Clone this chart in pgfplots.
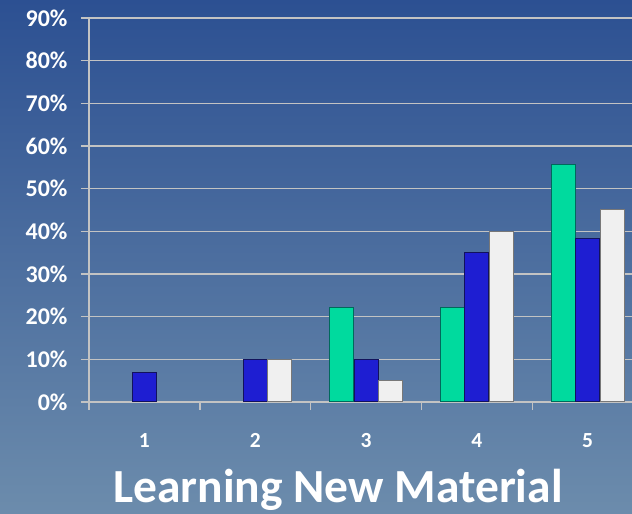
\documentclass[border=0pt]{standalone}
\usepackage{fontspec}
\setmainfont{Carlito}
\usepackage{pgfplots}
\pgfplotsset{compat=1.18}
\definecolor{bgtop}{RGB}{44,80,146}
\definecolor{bgbot}{RGB}{108,140,172}
\definecolor{gridc}{RGB}{195,195,195}
\definecolor{gfill}{RGB}{0,218,158}
\definecolor{gedge}{RGB}{0,105,92}
\definecolor{bfill}{RGB}{30,30,210}
\definecolor{bedge}{RGB}{18,18,92}
\definecolor{wfill}{RGB}{240,240,240}
\definecolor{wedge}{RGB}{120,120,120}
\begin{document}
\begin{tikzpicture}[x=1pt,y=1pt]
\useasboundingbox (0,0) rectangle (632,514);
\shade[top color=bgtop, bottom color=bgbot] (0,0) rectangle (632,514);
\begin{axis}[
  at={(89pt,112pt)}, anchor=south west,
  scale only axis, width=543pt, height=384pt,
  xmin=0.5, xmax=5.4, ymin=0, ymax=90,
  axis x line*=bottom, axis y line*=left,
  axis line style={gridc, line width=1.4pt},
  ybar=0.5pt, bar width=24pt,
  xtick={1,2,3,4,5},
  major x tick style={draw=none},
  minor xtick={0.5,1.5,2.5,3.5,4.5},
  minor x tick style={gridc, line width=1.4pt},
  minor tick length=8pt,
  ytick={0,10,...,90},
  yticklabels={0\%,10\%,20\%,30\%,40\%,50\%,60\%,70\%,80\%,90\%},
  major y tick style={gridc, line width=1.4pt},
  major tick length=8pt,
  tick align=outside,
  ymajorgrids, grid style={gridc, line width=1.4pt},
  yticklabel style={font=\fontsize{24}{26}\selectfont\bfseries, text=white, xshift=-10pt},
  xticklabel style={font=\fontsize{21.5}{24}\selectfont\bfseries, text=white, yshift=-20pt},
  /pgf/number format/assume math mode=true,
  xlabel={Learning New Material},
  xlabel style={at={(axis description cs:0.4586,0)}, anchor=base, yshift=-100pt,
    font=\fontsize{47.5}{52}\selectfont\bfseries, text=white, inner sep=0pt},
]
\addplot[fill=gfill, draw=gedge, line width=1pt] coordinates {(3,22.2) (4,22.2) (5,55.6)};
\addplot[fill=bfill, draw=bedge, line width=1pt] coordinates {(1,6.8) (2,10) (3,10) (4,35) (5,38.4)};
\addplot[fill=wfill, draw=wedge, line width=1pt] coordinates {(2,10) (3,5) (4,40) (5,45)};
\end{axis}
\end{tikzpicture}
\end{document}
